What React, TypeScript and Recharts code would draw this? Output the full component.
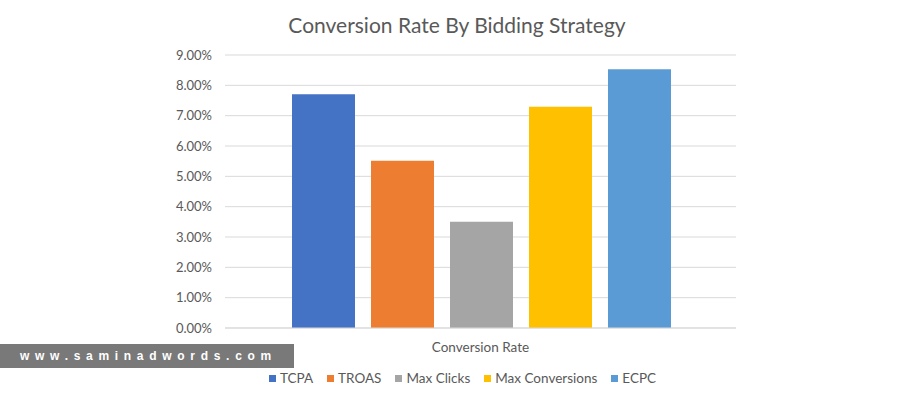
import React from 'react';
import { BarChart, Bar, XAxis, YAxis, CartesianGrid, Legend } from 'recharts';

const categories = ['Conversion Rate'];
const seriesNames = ['TCPA', 'TROAS', 'Max Clicks', 'Max Conversions', 'ECPC'];
const tcpaValues = [7.71];
const troasValues = [5.51];
const maxClicksValues = [3.5];
const maxConversionsValues = [7.29];
const ecpcValues = [8.53];
const yTicks = [0, 1, 2, 3, 4, 5, 6, 7, 8, 9];
const seriesColors = ['#4472C4', '#ED7D31', '#A5A5A5', '#FFC000', '#5B9BD5'];

const seriesValues = [tcpaValues, troasValues, maxClicksValues, maxConversionsValues, ecpcValues];

const data = categories.map((c, i) => {
  const row: Record<string, string | number> = { name: c };
  seriesNames.forEach((s, k) => {
    row[s] = seriesValues[k][i];
  });
  return row;
});

const TEXT = '#595959';
const FONT = 'Lato, "Noto Sans", sans-serif';

const LegendContent = (props: any) => {
  const payload = [...(props.payload || [])].sort(
    (a: any, b: any) => seriesNames.indexOf(a.value) - seriesNames.indexOf(b.value)
  );
  return (
    <div style={{ textAlign: 'center', paddingLeft: 24, boxSizing: 'border-box', width: '100%' }}>
      {payload.map((p: any, i: number) => (
        <span
          key={p.value}
          style={{
            display: 'inline-block',
            marginRight: i === payload.length - 1 ? 0 : 14,
            fontFamily: FONT,
            fontSize: 13.5,
            color: TEXT,
            lineHeight: '16px',
          }}
        >
          <span
            style={{
              display: 'inline-block',
              width: 7,
              height: 7,
              background: p.color,
              marginRight: 4,
              verticalAlign: 'middle',
              position: 'relative',
              top: -1,
            }}
          />
          {p.value}
        </span>
      ))}
    </div>
  );
};

export default function App() {
  return (
    <div style={{ position: 'absolute', left: 0, top: 0, width: 901, height: 400, background: '#fff', overflow: 'hidden' }}>
      <div
        style={{
          position: 'absolute',
          left: 0,
          top: 13,
          width: 901,
          paddingLeft: 13,
          boxSizing: 'border-box',
          textAlign: 'center',
          fontFamily: FONT,
          fontSize: 21,
          lineHeight: '24px',
          color: TEXT,
          zIndex: 2,
        }}
      >
        Conversion Rate By Bidding Strategy
      </div>
      <BarChart
        width={901}
        height={400}
        data={data}
        margin={{ top: 55, right: 165, bottom: 42, left: 0 }}
        barCategoryGap={67}
        barGap={16}
      >
        <CartesianGrid vertical={false} stroke="#d9d9d9" />
        <XAxis
          dataKey="name"
          axisLine={{ stroke: '#d9d9d9' }}
          tickLine={false}
          tickMargin={8}
          tick={{ fill: TEXT, fontSize: 13.5, fontFamily: FONT }}
        />
        <YAxis
          width={225}
          domain={[0, 9]}
          ticks={yTicks}
          interval={0}
          axisLine={false}
          tickLine={false}
          tickMargin={7}
          tickFormatter={(v: number) => `${v.toFixed(2)}%`}
          tick={{ fill: TEXT, fontSize: 13, fontFamily: FONT }}
        />
        <Legend
          verticalAlign="middle"
          align="center"
          wrapperStyle={{ top: 369, left: 0, width: 901 }}
          content={<LegendContent />}
        />
        {seriesNames.map((s, k) => (
          <Bar key={s} dataKey={s} fill={seriesColors[k]} isAnimationActive={false} />
        ))}
      </BarChart>
      <div
        style={{
          position: 'absolute',
          left: 0,
          top: 344,
          width: 294,
          height: 24,
          background: '#797979',
          color: '#fff',
          fontFamily: '"Liberation Sans", Arial, sans-serif',
          fontWeight: 'bold',
          fontSize: 12,
          lineHeight: '24px',
          letterSpacing: '5.7px',
          paddingLeft: 20,
          boxSizing: 'border-box',
          whiteSpace: 'nowrap',
          zIndex: 2,
        }}
      >
        www.saminadwords.com
      </div>
    </div>
  );
}
